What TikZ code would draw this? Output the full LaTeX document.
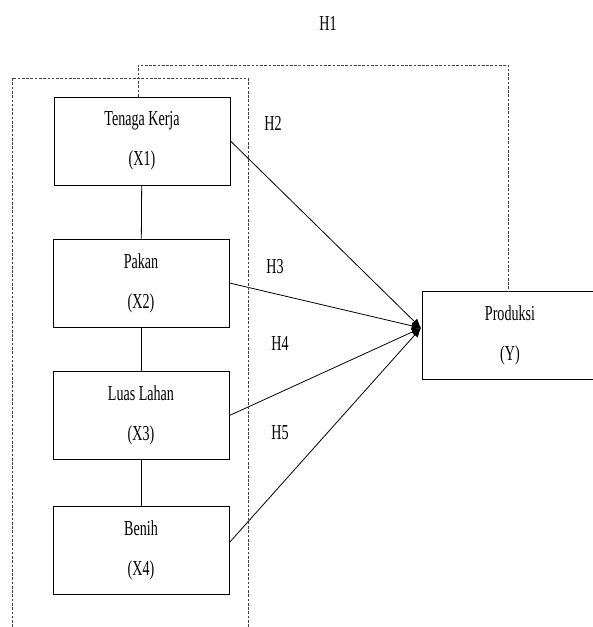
\documentclass[tikz,border=0pt]{standalone}
\usepackage{fontspec}
\setmainfont{Liberation Serif}[FakeStretch=0.66]
\usepackage{tikz}
\usetikzlibrary{arrows.meta}

\begin{document}
\begin{tikzpicture}[x=0.75pt, y=-0.75pt, every node/.style={font=\fontsize{16}{30}\selectfont},
  var/.style={draw, line width=0.7pt, align=center, minimum width=132pt, minimum height=66pt, inner sep=0pt},
  link/.style={line width=0.6pt, -{Latex[length=7pt, width=6pt]}},
  grp/.style={line width=0.6pt, black!75, dash pattern=on 2pt off 1.2pt}]
\useasboundingbox (0,0) rectangle (592,627);
\node[var] (x1) at (142,141) {Tenaga Kerja\\(X1)};
\node[var] (x2) at (141,283) {Pakan\\(X2)};
\node[var] (x3) at (141,415.5) {Luas Lahan\\(X3)};
\node[var] (x4) at (141,550.5) {Benih\\(X4)};
\node[var] (y) at (510,335.5) {Produksi\\(Y)};
\coordinate (tip) at (421,328);
\coordinate (h1top) at (300,65);
\draw[line width=0.6pt] (x1) -- (x2);
\draw[line width=0.6pt] (x2) -- (x3);
\draw[line width=0.6pt] (x3) -- (x4);
\draw[link] (x1.east) -- (tip);
\draw[link] (x2.east) -- (tip);
\draw[link] (x3.east) -- (tip);
\draw[link] ([yshift=6pt]x4.east) -- (tip);
% dotted grouping
\draw[grp] (12,627) -- (12,78) -- (248,78) -- (248,627);
\draw[grp] ([xshift=-3pt]x1.north) |- (h1top) -| ([xshift=-1.5pt]y.north);
\node (h1) at (328,23) {H1};
\node (h2) at (273,123) {H2};
\node (h3) at (275,267) {H3};
\node (h4) at (280,343) {H4};
\node (h5) at (280,433) {H5};
\end{tikzpicture}
\end{document}
